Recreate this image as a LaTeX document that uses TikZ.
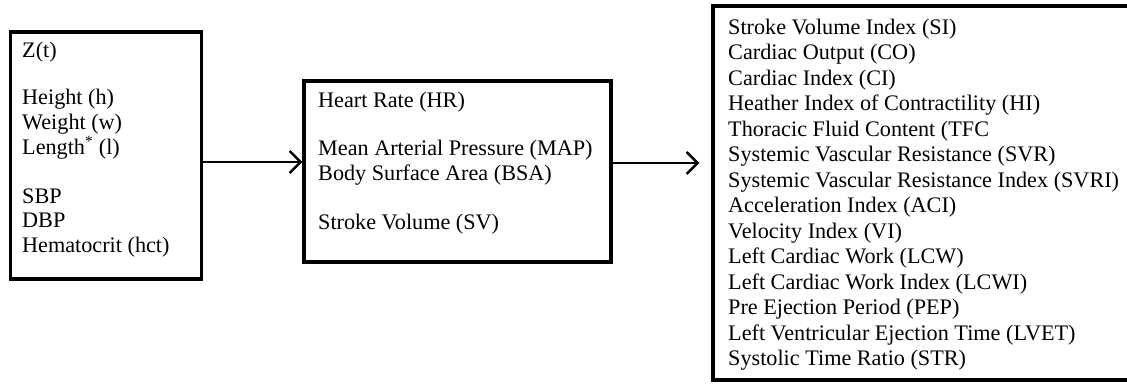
\documentclass[tikz,border=0pt]{standalone}
\usepackage{fontspec}
\setmainfont{Liberation Serif}
\usetikzlibrary{arrows.meta}
\begin{document}
\begin{tikzpicture}[x=1pt,y=-1pt,
  box/.style={draw,line width=3.2pt,inner sep=0pt,fill=none},
  txt/.style={anchor=base west,inner sep=0pt,font=\fontsize{22.2}{24}\selectfont},
  arr/.style={line width=2.5pt,-{Straight Barb[length=11pt,width=22pt]}}]
\useasboundingbox (0,0) rectangle (1127,383);
\clip (0,0) rectangle (1127,383);
% boxes
\node[box,minimum width=191pt,minimum height=247pt] (b1) at (106,155.5) {};
\node[box,minimum width=307pt,minimum height=181pt] (b2) at (457.5,171.5) {};
\node[box,minimum width=427pt,minimum height=374pt] (b3) at (926.5,193) {};
% texts of box 1
\foreach \yy/\t [count=\i] in {57/Z(t), 104/Height (h), 129/Weight (w),
  154/{Length\textsuperscript{*} (l)}, 203/SBP, 227/DBP, 252/Hematocrit (hct)}
  \node[txt] (p\i) at (22,\yy) {\t};
% texts of box 2
\foreach \yy/\t [count=\i] in {107/Heart Rate (HR), 155/Mean Arterial Pressure (MAP),
  180/Body Surface Area (BSA), 229/Stroke Volume (SV)}
  \node[txt] (m\i) at (318,\yy) {\t};
% texts of box 3
\foreach \t [count=\i] in {Stroke Volume Index (SI), Cardiac Output (CO),
  Cardiac Index (CI), Heather Index of Contractility (HI),
  Thoracic Fluid Content (TFC, Systemic Vascular Resistance (SVR),
  Systemic Vascular Resistance Index (SVRI), Acceleration Index (ACI),
  Velocity Index (VI), Left Cardiac Work (LCW), Left Cardiac Work Index (LCWI),
  Pre Ejection Period (PEP), Left Ventricular Ejection Time (LVET),
  Systolic Time Ratio (STR)}
  \node[txt] (r\i) at (728,{34+25.5*(\i-1)}) {\t};
% connectors
\draw[arr] (b1.east |- 0,162) -- (b2.west |- 0,162);
\coordinate (a2end) at ([xshift=-12pt]b3.west |- 0,163);
\draw[arr] (b2.east |- 0,163) -- (a2end);
\end{tikzpicture}
\end{document}
